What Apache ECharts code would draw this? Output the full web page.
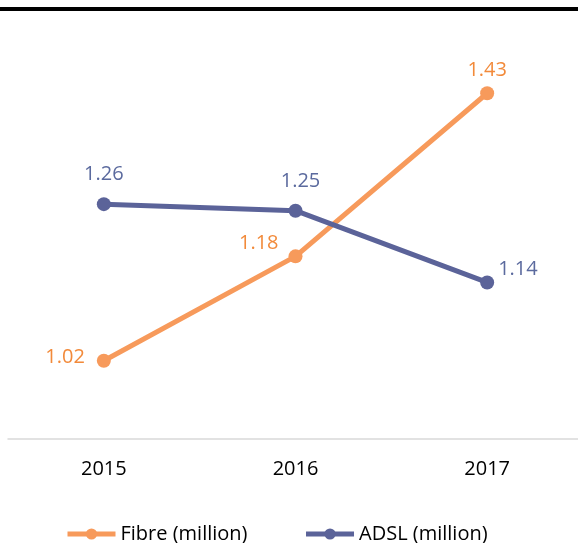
<!DOCTYPE html>
<html>
<head>
<meta charset="utf-8">
<script src="https://cdn.jsdelivr.net/npm/echarts@6/dist/echarts.min.js"></script>
<style>
  html, body { margin: 0; padding: 0; background: #ffffff; }
  #chart { width: 578px; height: 543px; }
</style>
</head>
<body>
<div id="chart"></div>
<script>
// Broadband connections by year (millions)
const years = ['2015', '2016', '2017'];
const fibre = [1.02, 1.18, 1.43];
const adsl = [1.26, 1.25, 1.14];

// Label placement per point: [position, distance, offsetX, offsetY]
const fibreLabelPlace = [['left', 12, 0, -3], ['left', 10, 0, -13], ['top', 6, 0, 0]];
const adslLabelPlace = [['top', 13, 0, 0], ['top', 12, 5, 0], ['right', 4, 0, -13]];

const FONT = '"Open Sans", "Noto Sans", sans-serif';

function withLabels(values, places, color) {
  return values.map((v, i) => ({
    value: v,
    label: {
      show: true,
      position: places[i][0],
      distance: places[i][1],
      offset: [places[i][2], places[i][3]],
      color: color,
      fontSize: 20,
      fontFamily: FONT,
      formatter: (p) => p.value.toFixed(2)
    }
  }));
}

const chart = echarts.init(document.getElementById('chart'), null, { renderer: 'canvas' });
chart.setOption({
  animation: false,
  backgroundColor: '#ffffff',
  graphic: [{
    type: 'rect',
    shape: { x: 0, y: 7, width: 578, height: 4 },
    style: { fill: '#000000' }
  }],
  grid: { left: 8, width: 575, top: 47.6, bottom: 104, outerBoundsMode: 'none' },
  legend: {
    left: 65,
    top: 524,
    padding: 0,
    itemWidth: 48,
    itemHeight: 14,
    itemGap: 56,
    lineStyle: { width: 5 },
    textStyle: { fontSize: 20, fontFamily: FONT, color: '#000000' },
    data: ['Fibre (million)', 'ADSL (million)']
  },
  xAxis: {
    type: 'category',
    data: years,
    boundaryGap: true,
    axisLine: { lineStyle: { color: '#d9d9d9', width: 1.5 } },
    axisTick: { show: false },
    axisLabel: { margin: 20, fontSize: 20, fontFamily: FONT, color: '#000000' }
  },
  yAxis: {
    type: 'value',
    min: 0.9,
    max: 1.5,
    show: false,
    splitLine: { show: false }
  },
  series: [
    {
      name: 'Fibre (million)',
      type: 'line',
      data: withLabels(fibre, fibreLabelPlace, '#F28A3A'),
      symbol: 'circle',
      symbolSize: 14,
      lineStyle: { color: '#F79A5B', width: 5 },
      itemStyle: { color: '#F79A5B' }
    },
    {
      name: 'ADSL (million)',
      type: 'line',
      data: withLabels(adsl, adslLabelPlace, '#5B6A9E'),
      symbol: 'circle',
      symbolSize: 14,
      lineStyle: { color: '#5B6399', width: 5 },
      itemStyle: { color: '#5B6399' }
    }
  ]
});
</script>
</body>
</html>
